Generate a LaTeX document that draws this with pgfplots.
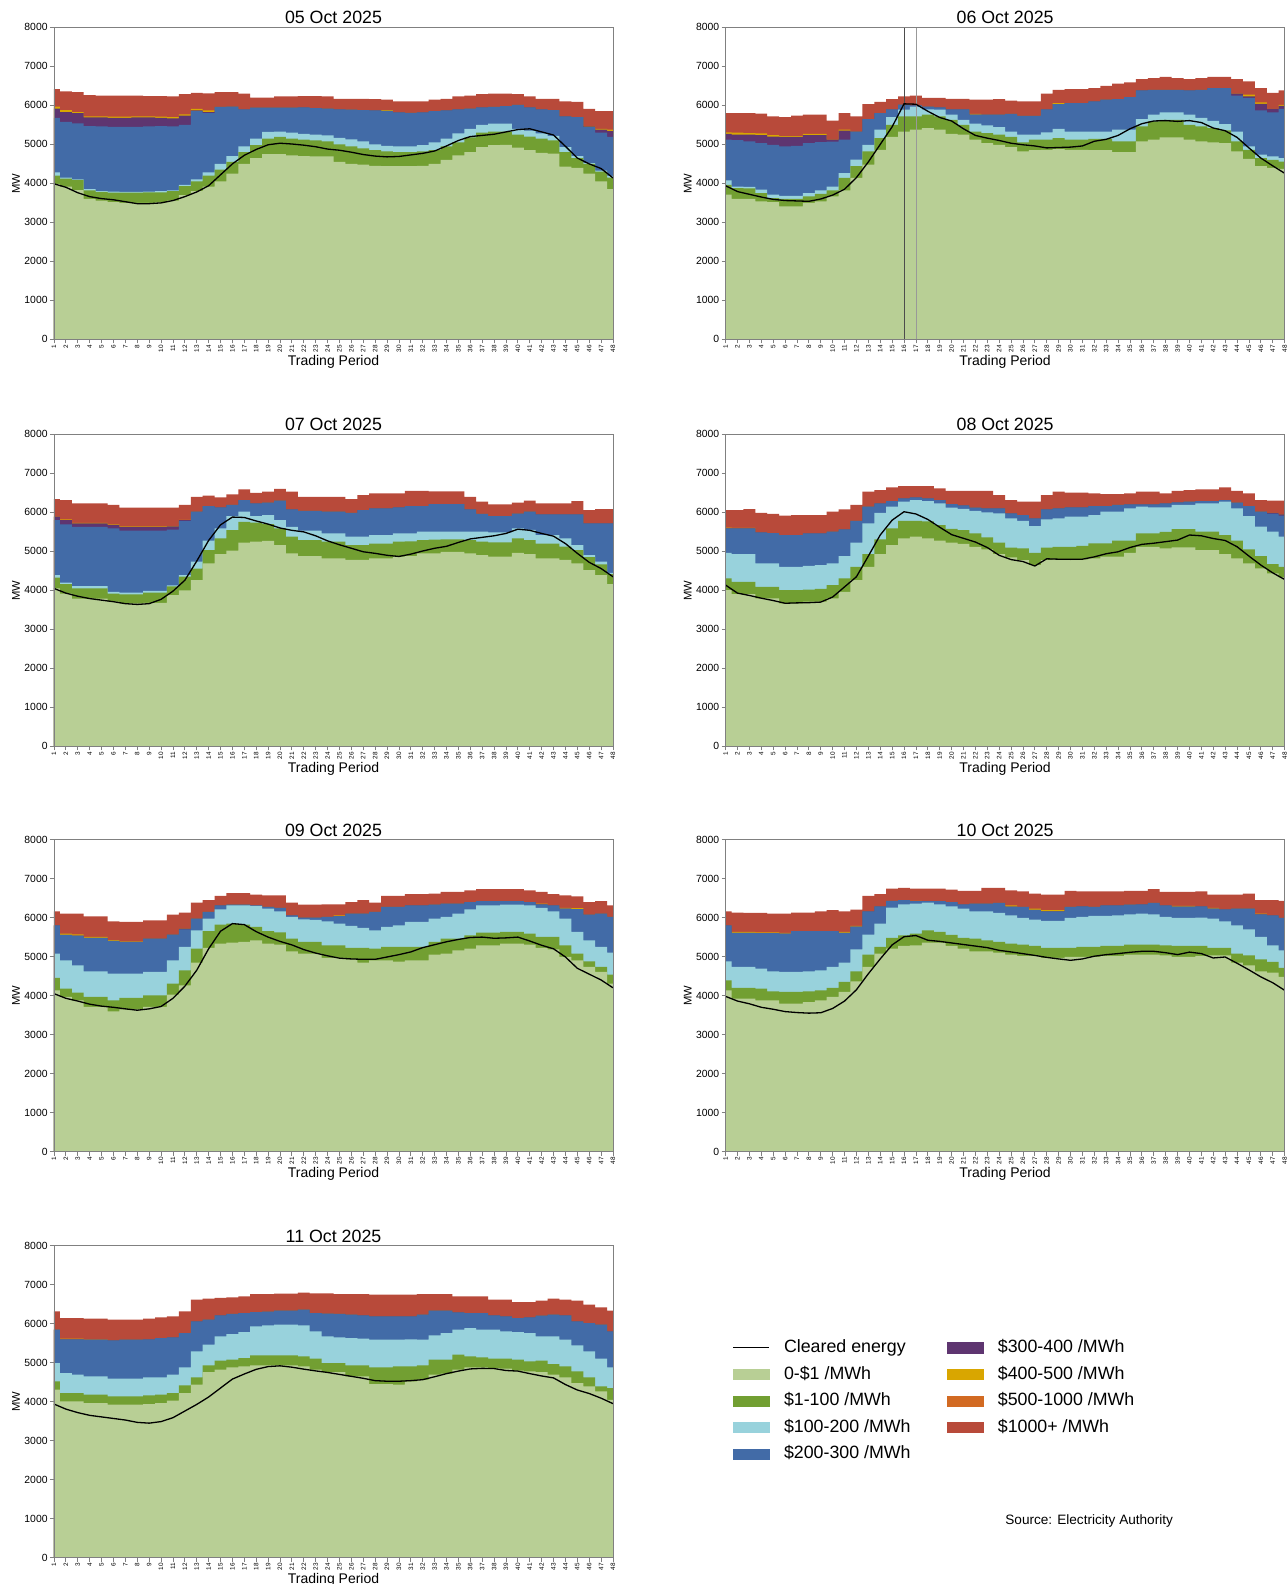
\documentclass[border=0pt]{standalone}
\usepackage{pgfplots}
\pgfplotsset{compat=1.18}
\usepackage{pgfplotstable}
\usepackage{fontspec}
\setmainfont{Liberation Sans}

\definecolor{cG}{RGB}{184,207,149}
\definecolor{cD}{RGB}{114,159,50}
\definecolor{cL}{RGB}{152,210,220}
\definecolor{cB}{RGB}{66,107,167}
\definecolor{cP}{RGB}{94,53,112}
\definecolor{cY}{RGB}{217,166,0}
\definecolor{cO}{RGB}{210,106,34}
\definecolor{cR}{RGB}{184,74,58}

\pgfplotstableread{
t G D L B P Y R C
1 3990 4200 4280 5680 5920 5970 6420 3990
2 3920 4120 4150 5580 5830 5880 6360 3900
3 3830 4090 4100 5540 5800 5830 6340 3760
4 3600 3820 3850 5470 5690 5720 6260 3660
5 3560 3780 3800 5460 5690 5720 6250 3610
6 3520 3760 3790 5450 5680 5710 6250 3580
7 3500 3760 3780 5450 5680 5710 6250 3530
8 3500 3760 3780 5450 5690 5720 6250 3480
9 3500 3770 3790 5460 5690 5720 6240 3480
10 3510 3770 3800 5470 5680 5710 6240 3500
11 3560 3800 3820 5460 5670 5700 6230 3560
12 3700 3930 3960 5500 5740 5770 6290 3660
13 3800 4050 4100 5850 5870 5910 6320 3780
14 3920 4200 4280 5800 5830 5870 6310 3940
15 4050 4350 4500 5960 5960 5960 6340 4220
16 4250 4550 4700 5970 5970 5970 6340 4500
17 4500 4800 4950 5900 5900 5900 6300 4720
18 4650 4980 5150 5940 5940 5940 6200 4870
19 4750 5150 5320 5940 5940 5940 6200 4990
20 4750 5190 5330 5940 5940 5940 6230 5030
21 4720 5150 5300 5940 5940 5940 6230 5010
22 4700 5120 5270 5950 5950 5950 6240 4980
23 4690 5100 5250 5930 5930 5930 6240 4940
24 4690 5080 5230 5920 5920 5920 6230 4880
25 4550 5000 5170 5900 5900 5900 6170 4850
26 4500 4950 5130 5890 5890 5890 6170 4800
27 4480 4900 5080 5880 5880 5880 6170 4740
28 4450 4850 5000 5870 5870 5870 6160 4700
29 4440 4820 4960 5860 5860 5880 6150 4680
30 4440 4800 4950 5820 5820 5820 6100 4690
31 4440 4800 4950 5810 5810 5810 6100 4730
32 4450 4820 4980 5820 5820 5820 6100 4770
33 4500 4850 5050 5850 5850 5850 6150 4830
34 4600 4950 5150 5870 5870 5870 6170 4960
35 4720 5050 5280 5900 5900 5900 6230 5100
36 4800 5180 5400 5920 5920 5920 6250 5200
37 4930 5300 5500 5950 5950 5950 6290 5230
38 4980 5330 5530 5960 5960 5960 6300 5260
39 4990 5330 5530 5980 5980 5980 6300 5320
40 4920 5250 5400 6010 6010 6010 6290 5380
41 4850 5200 5350 5950 5950 5950 6230 5400
42 4780 5150 5280 5900 5900 5900 6170 5320
43 4760 5100 5220 5880 5880 5880 6170 5240
44 4430 4800 4930 5720 5720 5720 6100 4950
45 4400 4650 4700 5700 5700 5700 6090 4650
46 4250 4500 4520 5440 5460 5470 5910 4500
47 4050 4300 4330 5300 5380 5400 5850 4380
48 3850 4150 4190 5190 5340 5380 5850 4140
}\dA

\pgfplotstableread{
t G D L B P Y R C
1 3710 3965 4076 5120 5270 5310 5800 3940
2 3600 3880 3920 5110 5250 5300 5800 3790
3 3600 3870 3910 5080 5250 5290 5800 3720
4 3540 3750 3840 5030 5240 5280 5790 3650
5 3520 3620 3710 4990 5200 5240 5720 3590
6 3410 3600 3680 4950 5190 5210 5700 3560
7 3410 3600 3680 4960 5190 5210 5740 3550
8 3500 3670 3750 5030 5240 5270 5760 3540
9 3540 3730 3820 5060 5240 5270 5760 3600
10 3670 3820 3920 5070 5120 5120 5610 3700
11 3820 4140 4260 5120 5350 5380 5800 3850
12 4140 4440 4610 5330 5330 5330 5720 4150
13 4480 4820 4990 5650 5650 5650 6030 4550
14 4860 5160 5380 5800 5800 5800 6090 5000
15 5190 5500 5700 5900 5900 5900 6160 5450
16 5330 5720 5890 6020 6020 6020 6230 6040
17 5380 5720 5970 6000 6000 6000 6250 6030
18 5420 5760 5900 5970 5970 5970 6190 5850
19 5380 5720 5890 5950 5950 5950 6190 5690
20 5270 5630 5760 5900 5900 5900 6170 5600
21 5250 5500 5630 5900 5900 5900 6170 5400
22 5120 5330 5530 5760 5760 5780 6145 5230
23 5030 5290 5490 5760 5760 5760 6145 5160
24 4990 5250 5440 5760 5760 5760 6160 5100
25 4930 5190 5330 5780 5780 5780 6120 5030
26 4820 5050 5250 5730 5730 5730 6100 4990
27 4850 5120 5250 5730 5730 5730 6100 4960
28 4860 5120 5310 5900 5900 5900 6300 4910
29 4880 5160 5400 6030 6030 6060 6400 4920
30 4860 5120 5330 6060 6060 6060 6420 4930
31 4860 5120 5330 6060 6060 6060 6420 4960
32 4850 5140 5330 6100 6100 6100 6445 5080
33 4850 5140 5330 6145 6145 6145 6500 5130
34 4800 5080 5380 6160 6160 6160 6555 5230
35 4800 5080 5380 6210 6210 6210 6590 5400
36 5080 5460 5650 6385 6385 6385 6675 5530
37 5120 5590 5760 6400 6400 6400 6700 5600
38 5180 5630 5820 6400 6400 6400 6730 5610
39 5180 5630 5820 6400 6400 6400 6700 5590
40 5120 5500 5760 6385 6385 6385 6675 5610
41 5080 5460 5680 6400 6400 6400 6700 5560
42 5050 5420 5600 6445 6445 6445 6730 5420
43 5030 5360 5520 6445 6445 6445 6730 5350
44 4820 5080 5330 6250 6300 6300 6675 5180
45 4630 4860 4950 6190 6230 6275 6615 4910
46 4440 4650 4740 5870 6040 6080 6445 4650
47 4400 4600 4690 5820 5910 5910 6320 4450
48 4370 4560 4650 5910 5990 6010 6385 4260
}\dB

\pgfplotstableread{
t G D L B P Y R C
1 4050 4330 4390 5800 5890 5890 6340 4050
2 3920 4160 4200 5690 5800 5820 6316 3930
3 3790 4050 4110 5630 5720 5730 6230 3850
4 3790 4050 4110 5630 5720 5730 6230 3790
5 3790 4050 4110 5630 5720 5730 6230 3750
6 3710 3920 3965 5590 5680 5690 6190 3710
7 3665 3900 3940 5530 5630 5640 6120 3660
8 3665 3900 3940 5530 5630 5640 6120 3640
9 3680 3940 3990 5530 5630 5640 6125 3660
10 3680 3940 3990 5530 5630 5640 6125 3770
11 3880 4100 4130 5560 5640 5650 6125 3980
12 4000 4350 4390 5780 5800 5810 6190 4260
13 4264 4560 4735 6017 6017 6017 6400 4750
14 4690 5034 5273 6160 6160 6160 6430 5280
15 4930 5333 5590 6130 6130 6130 6385 5680
16 5017 5547 5906 6190 6190 6190 6460 5880
17 5222 5760 6017 6316 6316 6316 6590 5870
18 5250 5740 5906 6230 6230 6230 6500 5780
19 5270 5700 5930 6250 6250 6250 6530 5700
20 5160 5590 5800 6300 6300 6300 6600 5600
21 4948 5376 5630 6077 6077 6077 6530 5540
22 4880 5290 5530 6040 6040 6040 6400 5500
23 4880 5290 5530 6040 6040 6040 6400 5400
24 4820 5250 5460 6017 6017 6017 6400 5270
25 4820 5250 5460 6017 6017 6017 6400 5170
26 4780 5160 5376 5990 5990 5990 6340 5080
27 4780 5160 5376 6060 6060 6060 6445 4990
28 4820 5200 5420 6100 6100 6100 6490 4950
29 4820 5200 5420 6100 6100 6100 6490 4900
30 4863 5250 5460 6130 6130 6130 6490 4870
31 4880 5260 5460 6160 6160 6160 6555 4930
32 4948 5290 5504 6160 6160 6160 6555 5010
33 4948 5300 5504 6215 6215 6215 6540 5080
34 4990 5310 5504 6215 6215 6215 6540 5130
35 4990 5310 5504 6215 6215 6215 6540 5230
36 4948 5290 5504 6077 6077 6077 6400 5320
37 4905 5250 5504 5960 5960 5960 6275 5360
38 4863 5230 5490 5906 5906 5906 6205 5400
39 4863 5230 5490 5906 5906 5906 6205 5460
40 4960 5333 5590 5970 5970 5970 6250 5570
41 4930 5290 5550 6017 6017 6017 6300 5540
42 4820 5200 5420 5950 5950 5950 6230 5460
43 4820 5200 5420 5950 5950 5950 6230 5390
44 4780 5120 5333 5950 5950 5950 6230 5200
45 4690 5034 5160 5950 5950 5950 6290 4950
46 4520 4850 4905 5718 5718 5718 6060 4720
47 4393 4670 4735 5718 5718 5718 6085 4560
48 4160 4420 4452 5718 5718 5718 6085 4350
}\dC

\pgfplotstableread{
t G D L B P Y R C
1 4008 4307 4965 5590 5590 5610 6060 4136
2 3905 4220 4930 5590 5590 5600 6060 3930
3 3905 4220 4930 5590 5590 5600 6085 3870
4 3794 4093 4690 5487 5487 5487 5990 3800
5 3794 4093 4690 5470 5470 5470 5960 3740
6 3666 4008 4606 5420 5420 5420 5915 3670
7 3666 4008 4606 5420 5420 5420 5930 3680
8 3709 4020 4630 5461 5461 5461 5930 3685
9 3709 4040 4650 5461 5461 5461 5930 3700
10 3794 4136 4690 5504 5504 5504 6017 3830
11 3965 4307 4880 5565 5565 5565 6077 4090
12 4264 4606 5222 5785 5785 5785 6190 4350
13 4606 4931 5718 6145 6145 6145 6530 4880
14 4931 5307 5990 6230 6230 6230 6570 5420
15 5162 5590 6145 6290 6290 6290 6640 5800
16 5333 5785 6275 6360 6360 6360 6675 6017
17 5376 5785 6316 6385 6385 6385 6675 5960
18 5333 5770 6290 6360 6360 6360 6675 5820
19 5273 5675 6230 6316 6316 6316 6615 5620
20 5222 5580 6120 6215 6215 6215 6555 5430
21 5190 5547 6090 6180 6180 6180 6555 5335
22 5119 5461 6040 6120 6120 6120 6555 5240
23 5051 5360 6000 6100 6100 6100 6555 5100
24 4931 5222 5975 6100 6100 6100 6445 4900
25 4846 5094 5846 5975 5975 5975 6316 4790
26 4777 5077 5785 5930 5930 5930 6275 4740
27 4649 4965 5650 5846 5846 5846 6275 4625
28 4777 5094 5820 6077 6077 6077 6445 4810
29 4794 5119 5846 6100 6100 6100 6530 4800
30 4794 5119 5889 6130 6130 6130 6510 4796
31 4794 5140 5889 6130 6130 6130 6510 4800
32 4820 5205 5930 6160 6160 6160 6490 4860
33 4863 5205 6017 6160 6160 6160 6470 4940
34 4863 5273 6017 6190 6190 6190 6470 4990
35 4965 5273 6100 6205 6205 6205 6490 5100
36 5119 5461 6145 6205 6205 6205 6530 5180
37 5119 5461 6130 6205 6205 6205 6530 5210
38 5077 5500 6130 6230 6230 6230 6490 5250
39 5102 5573 6190 6256 6256 6256 6555 5290
40 5102 5573 6190 6275 6275 6275 6570 5420
41 5034 5504 6230 6290 6290 6290 6590 5400
42 5034 5504 6230 6290 6290 6290 6590 5330
43 4931 5419 6275 6316 6316 6316 6640 5280
44 4820 5273 6100 6250 6250 6250 6555 5120
45 4692 5051 5906 6160 6160 6160 6490 4880
46 4564 4880 5632 6017 6017 6017 6316 4650
47 4435 4675 5504 5970 5990 5990 6300 4450
48 4333 4606 5376 5920 5950 5950 6300 4280
}\dD

\pgfplotstableread{
t G D L B P Y R C
1 4136 4452 5077 5803 5803 5803 6160 4050
2 3965 4179 4905 5560 5560 5590 6100 3930
3 3880 4076 4777 5540 5540 5570 6100 3860
4 3709 3965 4623 5480 5480 5504 6034 3780
5 3709 3965 4623 5480 5480 5504 6034 3730
6 3597 3880 4564 5400 5400 5420 5906 3700
7 3649 3940 4564 5380 5380 5393 5889 3660
8 3649 3940 4564 5380 5380 5393 5889 3625
9 3709 4008 4606 5461 5461 5461 5930 3660
10 3709 4008 4606 5461 5461 5461 5930 3720
11 4025 4307 4905 5565 5565 5565 6077 3930
12 4264 4649 5248 5700 5718 5718 6130 4240
13 4846 5205 5675 5974 5974 5974 6385 4650
14 5222 5650 5974 6145 6145 6145 6445 5200
15 5333 5820 6214 6316 6316 6316 6555 5650
16 5359 5846 6316 6333 6333 6333 6630 5846
17 5376 5820 6316 6333 6333 6333 6630 5820
18 5419 5760 6300 6316 6316 6316 6590 5640
19 5333 5650 6230 6273 6273 6273 6573 5500
20 5307 5620 6162 6250 6250 6250 6573 5390
21 5136 5461 6017 6060 6060 6060 6385 5300
22 5077 5376 5957 6000 6000 6000 6333 5180
23 5077 5376 5940 6000 6000 6000 6333 5090
24 4965 5290 5906 6017 6017 6017 6340 5020
25 4965 5290 5846 6040 6040 6060 6340 4960
26 4931 5222 5786 6103 6103 6103 6400 4940
27 4846 5222 5735 6103 6103 6103 6445 4930
28 4905 5205 5675 6145 6145 6145 6385 4930
29 4905 5248 5760 6273 6273 6273 6555 4990
30 4870 5248 5803 6273 6273 6273 6555 5050
31 4905 5248 5889 6316 6316 6316 6600 5120
32 4905 5248 5889 6316 6316 6316 6600 5230
33 5051 5376 5974 6333 6333 6333 6615 5305
34 5077 5461 6017 6360 6360 6360 6660 5380
35 5162 5461 6100 6360 6360 6360 6660 5440
36 5205 5547 6214 6400 6400 6400 6700 5490
37 5290 5615 6316 6420 6420 6420 6727 5500
38 5290 5615 6316 6420 6420 6420 6727 5470
39 5333 5632 6333 6420 6420 6420 6727 5480
40 5333 5632 6333 6420 6420 6420 6727 5500
41 5307 5590 6316 6400 6400 6400 6700 5400
42 5222 5504 6250 6340 6340 6360 6660 5290
43 5188 5504 6162 6316 6316 6316 6600 5200
44 4990 5290 5974 6230 6230 6250 6573 4990
45 4905 5077 5632 6220 6220 6240 6547 4700
46 4735 4880 5419 6077 6077 6077 6400 4550
47 4606 4735 5250 6100 6100 6100 6425 4400
48 4307 4538 5102 6017 6017 6017 6316 4200
}\dE

\pgfplotstableread{
t G D L B P Y R C
1 4136 4393 4880 5803 5803 5803 6160 3980
2 3922 4196 4735 5610 5610 5632 6130 3860
3 3922 4196 4735 5610 5610 5632 6120 3790
4 3880 4180 4692 5600 5600 5620 6120 3700
5 3880 4110 4623 5600 5600 5620 6103 3650
6 3794 4093 4606 5590 5590 5610 6103 3590
7 3794 4093 4606 5650 5650 5650 6130 3565
8 3830 4110 4623 5650 5650 5650 6130 3550
9 3880 4136 4649 5650 5650 5650 6160 3560
10 3965 4196 4735 5650 5650 5650 6190 3670
11 4093 4350 4846 5610 5610 5632 6160 3860
12 4367 4623 5188 5770 5770 5790 6205 4150
13 4735 5051 5564 6160 6160 6160 6555 4560
14 5077 5248 5846 6290 6290 6290 6600 4940
15 5205 5479 6256 6430 6430 6430 6745 5300
16 5273 5547 6340 6445 6445 6445 6760 5510
17 5290 5590 6360 6420 6420 6430 6745 5540
18 5359 5675 6385 6420 6420 6420 6745 5420
19 5359 5632 6340 6420 6420 6420 6745 5390
20 5273 5560 6290 6400 6400 6400 6720 5350
21 5205 5479 6230 6340 6340 6340 6685 5310
22 5136 5461 6162 6360 6360 6360 6685 5270
23 5136 5419 6162 6360 6360 6360 6760 5230
24 5102 5376 6120 6376 6376 6376 6760 5160
25 5051 5333 6060 6280 6280 6316 6700 5120
26 5017 5307 5990 6273 6273 6273 6675 5075
27 5017 5273 5950 6200 6200 6230 6615 5030
28 4965 5222 5914 6160 6160 6190 6590 4980
29 4965 5222 5914 6160 6160 6190 6590 4940
30 4990 5222 5990 6273 6273 6273 6685 4905
31 4990 5248 6017 6290 6290 6290 6675 4940
32 4990 5248 6043 6273 6273 6273 6675 5010
33 5017 5273 6043 6316 6316 6316 6675 5050
34 5017 5273 6060 6316 6316 6316 6675 5077
35 5051 5307 6085 6330 6330 6330 6685 5110
36 5051 5307 6103 6340 6340 6340 6685 5136
37 5051 5307 6085 6376 6376 6376 6727 5136
38 5034 5290 6017 6316 6316 6316 6660 5100
39 4990 5273 5990 6280 6280 6300 6660 5051
40 4990 5273 5990 6280 6280 6300 6660 5115
41 5017 5273 6000 6290 6290 6290 6675 5077
42 5034 5222 5974 6230 6230 6250 6590 4965
43 5034 5222 5906 6214 6214 6214 6590 4990
44 4846 5077 5803 6230 6230 6230 6590 4830
45 4777 5034 5700 6230 6230 6230 6615 4660
46 4623 4931 5504 6080 6080 6100 6445 4480
47 4589 4863 5290 6060 6060 6060 6445 4330
48 4478 4709 5162 5990 5990 5990 6430 4136
}\dF

\pgfplotstableread{
t G D L B P Y R C
1 4307 4520 4990 5846 5846 5846 6316 3940
2 4008 4221 4735 5600 5600 5615 6145 3810
3 4008 4221 4692 5600 5600 5615 6145 3720
4 3965 4179 4649 5590 5590 5600 6130 3650
5 3965 4179 4649 5590 5590 5600 6130 3610
6 3922 4136 4589 5573 5573 5573 6103 3570
7 3922 4136 4589 5590 5590 5590 6103 3530
8 3922 4136 4589 5590 5590 5590 6103 3470
9 3940 4160 4623 5600 5600 5600 6130 3450
10 3965 4179 4623 5632 5632 5632 6162 3490
11 4025 4221 4692 5650 5650 5650 6190 3590
12 4221 4418 4880 5761 5761 5761 6316 3760
13 4435 4623 5290 6060 6060 6060 6615 3930
14 4760 4931 5461 6103 6103 6103 6640 4120
15 4820 5051 5675 6214 6214 6214 6660 4350
16 4880 5077 5735 6250 6250 6250 6675 4580
17 4905 5119 5786 6273 6273 6273 6700 4710
18 4931 5188 5930 6300 6300 6300 6760 4830
19 4931 5188 5957 6310 6310 6310 6760 4900
20 4931 5188 5974 6333 6333 6333 6770 4920
21 4931 5188 5974 6333 6333 6333 6770 4885
22 4905 5162 5960 6360 6360 6360 6795 4835
23 4820 5102 5803 6273 6273 6273 6780 4790
24 4760 4990 5675 6260 6260 6260 6780 4750
25 4760 4990 5650 6250 6250 6250 6760 4700
26 4650 4931 5630 6230 6230 6230 6760 4650
27 4650 4931 5615 6214 6214 6214 6760 4600
28 4452 4880 5590 6190 6190 6190 6745 4540
29 4452 4880 5590 6190 6190 6190 6745 4525
30 4435 4905 5590 6190 6190 6190 6745 4525
31 4520 4905 5600 6190 6190 6190 6745 4540
32 4564 4931 5590 6230 6230 6230 6760 4565
33 4692 5077 5700 6333 6333 6333 6760 4640
34 4720 5077 5761 6333 6333 6333 6760 4720
35 4820 5205 5846 6290 6290 6290 6700 4785
36 4880 5162 5889 6273 6273 6273 6700 4840
37 4880 5136 5846 6273 6273 6273 6700 4855
38 4863 5102 5846 6214 6214 6214 6615 4850
39 4846 5102 5803 6190 6190 6190 6615 4800
40 4794 5077 5786 6145 6145 6145 6555 4785
41 4777 5034 5761 6160 6160 6160 6555 4720
42 4760 5051 5675 6205 6205 6205 6590 4660
43 4692 4965 5675 6230 6230 6230 6640 4610
44 4623 4905 5590 6214 6214 6214 6615 4440
45 4478 4777 5444 6060 6060 6060 6590 4300
46 4393 4623 5290 6017 6017 6017 6490 4210
47 4264 4393 5102 5975 5975 5975 6420 4090
48 4050 4350 4880 5803 5803 5803 6333 3950
}\dG

\pgfplotsset{
  lay/.style={draw=none, fill=#1, const plot mark mid},
  chart/.style={
    scale only axis, width=279.5pt, height=156pt, anchor=south west,
    xmin=1, xmax=48, ymin=0, ymax=8000,
    xtick={1,...,48}, ytick={0,1000,...,8000},
    axis on top,
    axis line style={black!50, line width=0.4pt},
    tick style={black!50, line width=0.4pt},
    tick align=outside, major tick length=2pt, tick pos=left,
    xticklabel style={rotate=90, anchor=east, font=\fontsize{3.2}{3.5}\selectfont, inner sep=0.6pt},
    yticklabel style={font=\fontsize{5.2}{6}\selectfont, inner sep=1pt},
    /pgf/number format/1000 sep={},
    /pgf/number format/assume math mode=true,
    every axis title shift=0pt,
    title style={at={(axis description cs:0.5,1)}, anchor=base, yshift=1.8pt, font=\fontsize{8.9}{10}\selectfont},
    xlabel={Trading Period},
    xlabel style={at={(axis description cs:0.5,0)}, anchor=base, yshift=-13pt, font=\fontsize{7}{8}\selectfont},
    ylabel={MW},
    ylabel style={at={(axis description cs:-0.061,0.5)}, anchor=base, font=\fontsize{5.6}{6}\selectfont},
  },
}

\newcommand{\panel}[5]{%
  \begin{axis}[chart, at={(#3,#4)}, title={#2}]
    \addplot[lay=cR] table[x=t,y=R]{#1} \closedcycle;
    \addplot[lay=cY] table[x=t,y=Y]{#1} \closedcycle;
    \addplot[lay=cP] table[x=t,y=P]{#1} \closedcycle;
    \addplot[lay=cB] table[x=t,y=B]{#1} \closedcycle;
    \addplot[lay=cL] table[x=t,y=L]{#1} \closedcycle;
    \addplot[lay=cD] table[x=t,y=D]{#1} \closedcycle;
    \addplot[lay=cG] table[x=t,y=G]{#1} \closedcycle;
    #5
    \addplot[black, line width=0.65pt] table[x=t,y=C]{#1};
  \end{axis}}

\newcommand{\sw}[1]{\addlegendimage{legend image code/.code={\fill[#1] (0pt,-2.6pt) rectangle (18pt,2.6pt);}}}

\begin{document}
\begin{tikzpicture}
\path[use as bounding box] (0,0) rectangle (643.5pt,792pt);

\panel{\dA}{05 Oct 2025}{27pt}{622.3pt}{}
\panel{\dB}{06 Oct 2025}{362.8pt}{622.3pt}{%
  \addplot[black!70, line width=0.4pt] coordinates {(16,0) (16,8000)};
  \addplot[black!40, line width=0.4pt] coordinates {(17,0) (17,8000)};}
\panel{\dC}{07 Oct 2025}{27pt}{418.8pt}{}
\panel{\dD}{08 Oct 2025}{362.8pt}{418.8pt}{}
\panel{\dE}{09 Oct 2025}{27pt}{216.2pt}{}
\panel{\dF}{10 Oct 2025}{362.8pt}{216.2pt}{}
\panel{\dG}{11 Oct 2025}{27pt}{13.15pt}{}

\begin{axis}[hide axis, scale only axis, width=1pt, height=1pt,
  xmin=0, xmax=1, ymin=0, ymax=1,
  at={(366.3pt,122.2pt)}, anchor=north west,
  legend columns=2, legend cell align=left,
  legend style={at={(0,1)}, anchor=north west, draw=none, fill=none,
    inner sep=0pt, outer sep=0pt, font=\fontsize{8.9}{10}\selectfont,
    row sep=5pt,
    nodes={inner sep=0pt, text height=6.4pt, text depth=1.9pt},
    /tikz/every odd column/.append style={column sep=7.2pt},
    /tikz/every even column/.append style={column sep=18pt}}]
  \addlegendimage{legend image code/.code={\draw[black, line width=0.5pt] (0pt,0pt) -- (18pt,0pt);}}
  \addlegendentry{Cleared energy}
  \sw{cP}\addlegendentry{\$300-400 /MWh}
  \sw{cG}\addlegendentry{0-\$1 /MWh}
  \sw{cY}\addlegendentry{\$400-500 /MWh}
  \sw{cD}\addlegendentry{\$1-100 /MWh}
  \sw{cO}\addlegendentry{\$500-1000 /MWh}
  \sw{cL}\addlegendentry{\$100-200 /MWh}
  \sw{cR}\addlegendentry{\$1000+ /MWh}
  \sw{cB}\addlegendentry{\$200-300 /MWh}
\end{axis}

\node[anchor=west, inner sep=0pt, font=\fontsize{6.8}{8}\selectfont] at (502.5pt,31.5pt) {Source: Electricity Authority};
\end{tikzpicture}
\end{document}
